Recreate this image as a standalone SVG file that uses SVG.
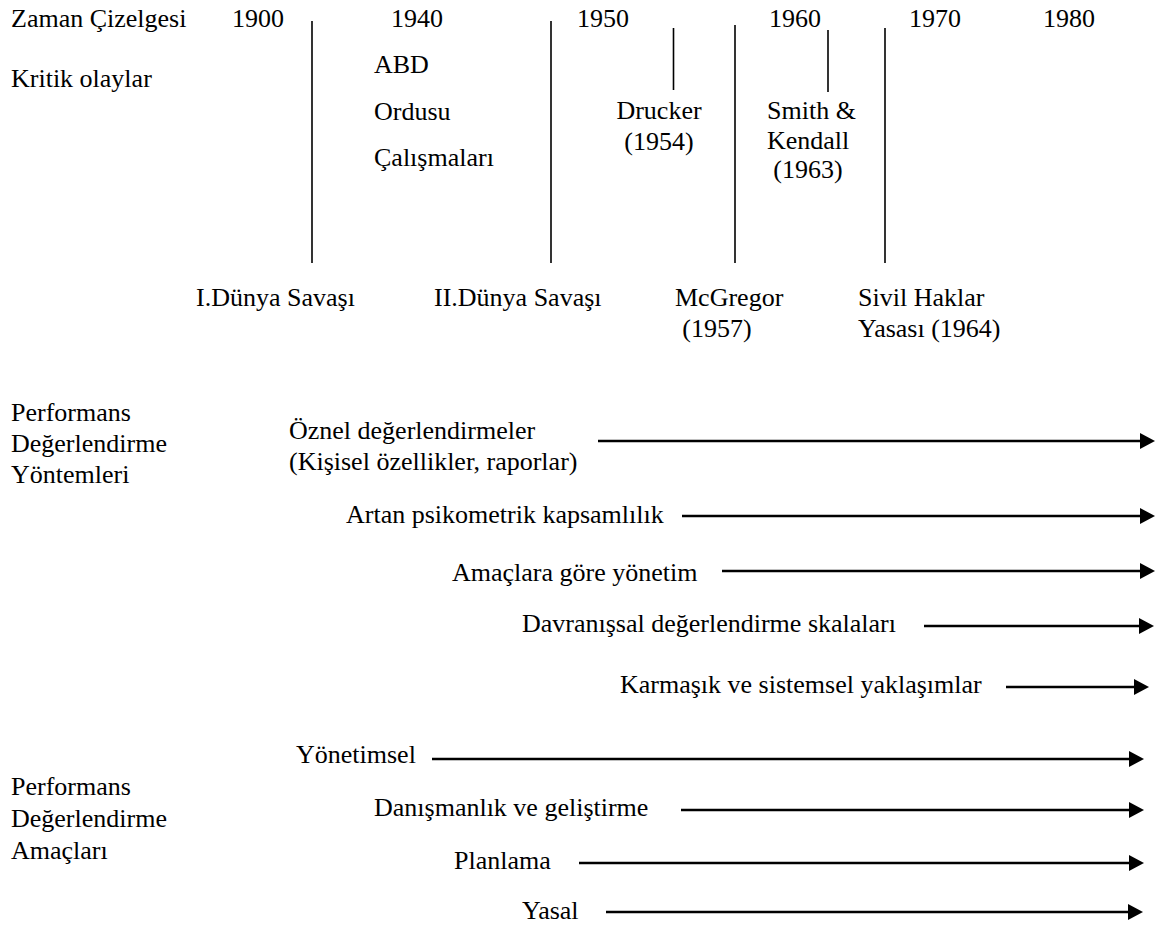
<svg xmlns="http://www.w3.org/2000/svg" width="1166" height="927" viewBox="0 0 1166 927">
  <style>
    text { font-family: "Liberation Serif", "Times New Roman", serif; font-size: 26px; fill: #000; }
    .mid { text-anchor: middle; }
    .tick { stroke: #000; stroke-width: 1.6; fill: none; }
    .flow { stroke: #000; stroke-width: 2.6; fill: none; marker-end: url(#head); }
  </style>
  <defs>
    <marker id="head" markerUnits="userSpaceOnUse" viewBox="0 0 15 16" refX="7" refY="8" markerWidth="15" markerHeight="16" orient="auto">
      <path d="M0,0 L15,8 L0,16 Z" fill="#000"/>
    </marker>
  </defs>

  <rect width="1166" height="927" fill="#fff"/>

  <!-- timeline header -->
  <g id="timeline-header">
    <text x="11" y="27">Zaman Çizelgesi</text>
    <text x="232" y="27">1900</text>
    <text x="391" y="27">1940</text>
    <text x="577" y="27">1950</text>
    <text x="769" y="27">1960</text>
    <text x="909" y="27">1970</text>
    <text x="1043" y="27">1980</text>
    <text x="11" y="87">Kritik olaylar</text>
  </g>

  <!-- critical events -->
  <g id="event-us-army">
    <text x="374" y="73">ABD</text>
    <text x="374" y="120">Ordusu</text>
    <text x="374" y="166">Çalışmaları</text>
  </g>
  <g id="event-drucker">
    <text x="659" y="119" class="mid">Drucker</text>
    <text x="659" y="150" class="mid">(1954)</text>
  </g>
  <g id="event-smith-kendall">
    <text x="767" y="119">Smith &amp;</text>
    <text x="767" y="149">Kendall</text>
    <text x="808" y="178" class="mid">(1963)</text>
  </g>
  <g id="event-ww1">
    <text x="196" y="306">I.Dünya Savaşı</text>
  </g>
  <g id="event-ww2">
    <text x="434" y="306">II.Dünya Savaşı</text>
  </g>
  <g id="event-mcgregor">
    <text x="675" y="306">McGregor</text>
    <text x="717" y="337" class="mid">(1957)</text>
  </g>
  <g id="event-civil-rights">
    <text x="858" y="306">Sivil Haklar</text>
    <text x="858" y="337">Yasası (1964)</text>
  </g>

  <!-- section labels -->
  <g id="methods-label">
    <text x="11" y="421">Performans</text>
    <text x="11" y="452">Değerlendirme</text>
    <text x="11" y="483">Yöntemleri</text>
  </g>
  <g id="purposes-label">
    <text x="11" y="795">Performans</text>
    <text x="11" y="827">Değerlendirme</text>
    <text x="11" y="859">Amaçları</text>
  </g>

  <!-- method rows -->
  <g id="method-subjective">
    <text x="289" y="439">Öznel değerlendirmeler</text>
    <text x="289" y="470">(Kişisel özellikler, raporlar)</text>
  </g>
  <g id="method-psychometric">
    <text x="346" y="523">Artan psikometrik kapsamlılık</text>
  </g>
  <g id="method-mbo">
    <text x="452" y="581">Amaçlara göre yönetim</text>
  </g>
  <g id="method-bars">
    <text x="522" y="632">Davranışsal değerlendirme skalaları</text>
  </g>
  <g id="method-systems">
    <text x="620" y="693">Karmaşık ve sistemsel yaklaşımlar</text>
  </g>

  <!-- purpose rows -->
  <g id="purpose-admin">
    <text x="296" y="763">Yönetimsel</text>
  </g>
  <g id="purpose-counseling">
    <text x="374" y="816">Danışmanlık ve geliştirme</text>
  </g>
  <g id="purpose-planning">
    <text x="454" y="869">Planlama</text>
  </g>
  <g id="purpose-legal">
    <text x="522" y="919">Yasal</text>
  </g>

  <!-- connectors -->
  <g id="connectors">
    <line class="tick" x1="312" y1="21" x2="312" y2="263"/>
    <line class="tick" x1="551" y1="21" x2="551" y2="263"/>
    <line class="tick" x1="735" y1="25" x2="735" y2="263"/>
    <line class="tick" x1="885" y1="28" x2="885" y2="263"/>
    <line class="tick" x1="673.5" y1="28" x2="673.5" y2="90"/>
    <line class="tick" x1="828" y1="30" x2="828" y2="92"/>

    <line class="flow" x1="598" y1="441" x2="1147" y2="441"/>
    <line class="flow" x1="682" y1="516" x2="1147" y2="516"/>
    <line class="flow" x1="722" y1="571" x2="1147" y2="571"/>
    <line class="flow" x1="924" y1="626" x2="1146" y2="626"/>
    <line class="flow" x1="1006" y1="687" x2="1141" y2="687"/>

    <line class="flow" x1="432" y1="759" x2="1136" y2="759"/>
    <line class="flow" x1="681" y1="810" x2="1136" y2="810"/>
    <line class="flow" x1="579" y1="863" x2="1136" y2="863"/>
    <line class="flow" x1="606" y1="912" x2="1135" y2="912"/>
  </g>
</svg>
